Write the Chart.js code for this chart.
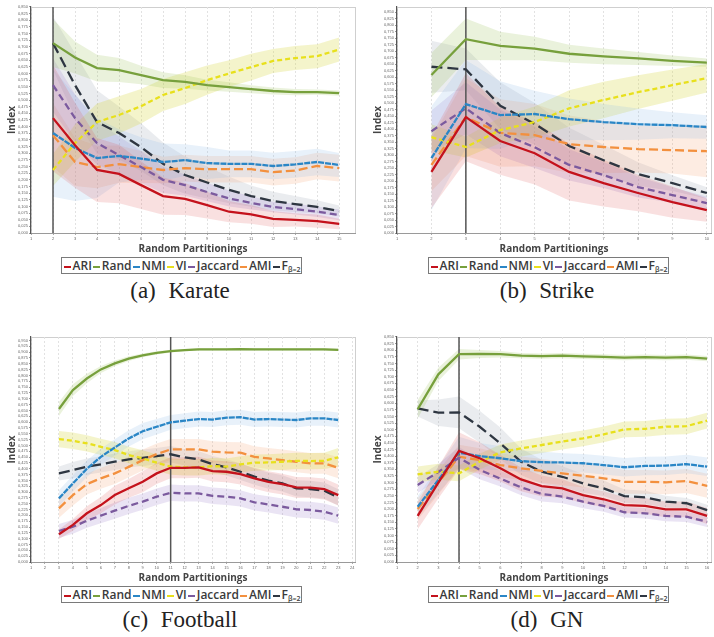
<!DOCTYPE html>
<html>
<head>
<meta charset="utf-8">
<script src="https://cdn.jsdelivr.net/npm/chart.js@4.4.1/dist/chart.umd.min.js"></script>
<style>
body { margin:0; background:#fff; width:714px; height:637px; position:relative; overflow:hidden; font-family:"Open Sans", sans-serif; }
.plot { position:absolute; }
.legend { position:absolute; width:239px; height:15px; border:1px solid #7a7a7a; display:flex; align-items:center; justify-content:center;
  font-family:"Open Sans", sans-serif; font-weight:600; font-size:12px; color:#3a3a3a; white-space:nowrap; }
.legend i { display:inline-block; width:7px; height:2px; margin:0 2px 0 1px; vertical-align:middle; }
.legend sub { font-size:7px; vertical-align:-2px; }
.cap { position:absolute; width:200px; text-align:center; font-family:"Liberation Serif", serif; font-size:23px; color:#222; word-spacing:7px; }
</style>
</head>
<body>
<div class="plot" style="left:0;top:0"><canvas id="c1" width="358" height="256"></canvas></div>
<div class="plot" style="left:366px;top:0"><canvas id="c2" width="348" height="256"></canvas></div>
<div class="plot" style="left:0;top:330px"><canvas id="c3" width="358" height="255"></canvas></div>
<div class="plot" style="left:366px;top:330px"><canvas id="c4" width="348" height="255"></canvas></div>

<div class="legend" id="lg1" style="left:61px;top:257px"></div>
<div class="legend" id="lg2" style="left:428px;top:257px"></div>
<div class="legend" id="lg3" style="left:61px;top:586px"></div>
<div class="legend" id="lg4" style="left:428px;top:586px"></div>

<div class="cap" style="left:80px;top:278px">(a) Karate</div>
<div class="cap" style="left:447px;top:278px">(b) Strike</div>
<div class="cap" style="left:80px;top:607px">(c) Football</div>
<div class="cap" style="left:447px;top:607px">(d) GN</div>

<script>
// series order: ARI, Rand, NMI, VI, Jaccard, AMI, F(beta=2)
var names = ['ARI', 'Rand', 'NMI', 'VI', 'Jaccard', 'AMI', 'F'];
var colors = ['#c4121c', '#77a03c', '#2a86c6', '#e8e01c', '#7b5a9e', '#f3903e', '#2e3641'];
var bandColors = ['rgba(220,70,70,0.17)', 'rgba(150,190,80,0.2)', 'rgba(140,185,230,0.2)', 'rgba(215,215,70,0.28)',
                  'rgba(150,120,200,0.2)', 'rgba(245,160,110,0.2)', 'rgba(140,150,165,0.18)'];
var dashes = [[], [], [6, 1], [5, 3], [7, 4], [9, 4], [11, 5]];

// ---- Karate ----
var karateX = [2,3,4,5,6,7,8,9,10,11,12,13,14,15];
var karateARI  = [0.432,0.33,0.237,0.222,0.18,0.139,0.128,0.105,0.08,0.07,0.053,0.049,0.045,0.034];
var karateRand = [0.714,0.66,0.62,0.613,0.594,0.575,0.568,0.556,0.549,0.541,0.534,0.53,0.53,0.526];
var karateNMI  = [0.376,0.32,0.282,0.29,0.28,0.267,0.274,0.263,0.26,0.26,0.252,0.258,0.267,0.256];
var karateVI   = [0.237,0.338,0.417,0.444,0.477,0.519,0.545,0.575,0.60,0.624,0.647,0.658,0.665,0.69];
var karateJac  = [0.556,0.432,0.338,0.293,0.248,0.2,0.18,0.154,0.13,0.113,0.098,0.09,0.08,0.068];
var karateAMI  = [0.368,0.267,0.248,0.259,0.248,0.237,0.244,0.24,0.24,0.24,0.229,0.235,0.252,0.244];
var karateF    = [0.714,0.556,0.417,0.376,0.323,0.26,0.218,0.19,0.162,0.139,0.12,0.109,0.098,0.083];
var karateSdARI  = [0.2,0.16,0.12,0.11,0.09,0.07,0.06,0.05,0.04,0.035,0.03,0.025,0.025,0.02];
var karateSdRand = [0.09,0.06,0.05,0.045,0.035,0.03,0.025,0.02,0.018,0.015,0.013,0.012,0.01,0.01];
var karateSdNMI  = [0.24,0.2,0.15,0.1,0.08,0.07,0.06,0.06,0.05,0.05,0.05,0.05,0.05,0.045];
var karateSdVI   = [0.06,0.07,0.07,0.07,0.065,0.06,0.06,0.055,0.05,0.05,0.045,0.045,0.045,0.045];
var karateSdJac  = [0.1,0.09,0.08,0.07,0.06,0.05,0.04,0.035,0.03,0.025,0.02,0.02,0.02,0.02];
var karateSdAMI  = [0.12,0.09,0.08,0.07,0.06,0.05,0.05,0.05,0.05,0.05,0.05,0.05,0.05,0.05];
var karateSdF    = [0.1,0.12,0.12,0.1,0.09,0.08,0.07,0.06,0.05,0.04,0.035,0.03,0.025,0.02];

// ---- Strike ----
var strikeX = [2,3,4,5,6,7,8,9,10];
var strikeARI  = [0.235,0.446,0.354,0.307,0.235,0.192,0.154,0.119,0.088];
var strikeRand = [0.608,0.746,0.72,0.71,0.69,0.68,0.672,0.663,0.656];
var strikeNMI  = [0.288,0.496,0.454,0.458,0.438,0.427,0.419,0.415,0.408];
var strikeVI   = [0.369,0.331,0.396,0.427,0.48,0.512,0.542,0.569,0.596];
var strikeJac  = [0.392,0.48,0.385,0.33,0.262,0.223,0.177,0.146,0.115];
var strikeAMI  = [0.262,0.446,0.385,0.377,0.342,0.331,0.323,0.319,0.315];
var strikeF    = [0.64,0.63,0.49,0.42,0.335,0.28,0.227,0.192,0.154];
var strikeSdARI  = [0.14,0.17,0.13,0.12,0.11,0.09,0.07,0.06,0.045];
var strikeSdRand = [0.085,0.08,0.055,0.045,0.035,0.03,0.025,0.02,0.016];
var strikeSdNMI  = [0.2,0.17,0.13,0.09,0.08,0.07,0.06,0.05,0.045];
var strikeSdVI   = [0.05,0.04,0.05,0.06,0.07,0.07,0.065,0.06,0.055];
var strikeSdJac  = [0.08,0.1,0.09,0.08,0.06,0.05,0.04,0.03,0.025];
var strikeSdAMI  = [0.1,0.15,0.13,0.12,0.11,0.1,0.09,0.09,0.1];
var strikeSdF    = [0.1,0.08,0.09,0.08,0.07,0.06,0.045,0.03,0.022];

// ---- Football ----
var footballX = [3,4,5,6,7,8,9,10,11,12,13,14,15,16,17,18,19,20,21,22,23];
var footballARI  = [0.119,0.159,0.209,0.244,0.287,0.316,0.344,0.38,0.404,0.404,0.406,0.39,0.387,0.377,0.359,0.344,0.334,0.32,0.319,0.313,0.287];
var footballRand = [0.656,0.737,0.787,0.826,0.852,0.872,0.886,0.897,0.904,0.909,0.912,0.912,0.912,0.913,0.912,0.912,0.912,0.912,0.912,0.912,0.91];
var footballNMI  = [0.273,0.337,0.40,0.451,0.491,0.53,0.561,0.58,0.599,0.606,0.613,0.611,0.619,0.621,0.611,0.613,0.611,0.609,0.616,0.616,0.609];
var footballVI   = [0.527,0.52,0.509,0.494,0.48,0.459,0.444,0.426,0.409,0.406,0.406,0.411,0.409,0.419,0.426,0.427,0.43,0.434,0.433,0.434,0.449];
var footballJac  = [0.133,0.151,0.177,0.199,0.22,0.241,0.259,0.28,0.297,0.294,0.294,0.284,0.28,0.273,0.256,0.247,0.237,0.226,0.223,0.216,0.199];
var footballAMI  = [0.23,0.287,0.334,0.359,0.38,0.408,0.437,0.463,0.483,0.483,0.483,0.473,0.47,0.469,0.451,0.444,0.437,0.43,0.423,0.423,0.404];
var footballF    = [0.38,0.394,0.409,0.419,0.43,0.44,0.447,0.454,0.462,0.449,0.44,0.42,0.406,0.387,0.366,0.349,0.337,0.316,0.313,0.306,0.277];
var footballSdARI  = [0.02,0.025,0.03,0.035,0.04,0.04,0.045,0.045,0.045,0.045,0.045,0.045,0.045,0.045,0.045,0.045,0.045,0.045,0.045,0.045,0.045];
var footballSdRand = [0.03,0.025,0.02,0.015,0.012,0.01,0.008,0.007,0.006,0.005,0.005,0.005,0.005,0.005,0.005,0.005,0.005,0.005,0.005,0.005,0.005];
var footballSdNMI  = [0.035,0.035,0.035,0.035,0.035,0.035,0.035,0.033,0.032,0.032,0.032,0.032,0.032,0.032,0.032,0.032,0.032,0.032,0.032,0.032,0.032];
var footballSdVI   = [0.035,0.035,0.035,0.035,0.035,0.035,0.035,0.035,0.035,0.035,0.035,0.035,0.035,0.035,0.035,0.035,0.035,0.035,0.035,0.035,0.04];
var footballSdJac  = [0.03,0.03,0.03,0.033,0.035,0.035,0.035,0.035,0.035,0.035,0.035,0.035,0.035,0.035,0.035,0.035,0.035,0.035,0.035,0.035,0.035];
var footballSdAMI  = [0.04,0.045,0.045,0.045,0.045,0.045,0.045,0.045,0.045,0.045,0.045,0.045,0.045,0.045,0.045,0.045,0.045,0.045,0.045,0.045,0.045];
var footballSdF    = [0.03,0.035,0.035,0.035,0.035,0.035,0.035,0.035,0.035,0.035,0.035,0.035,0.035,0.035,0.035,0.035,0.035,0.035,0.035,0.035,0.035];

// ---- GN ----
var gnX = [2,3,4,5,6,7,8,9,10,11,12,13,14,15,16];
var gnARI  = [0.174,0.3,0.42,0.392,0.354,0.312,0.287,0.278,0.253,0.237,0.215,0.212,0.199,0.199,0.174];
var gnRand = [0.577,0.709,0.785,0.786,0.785,0.78,0.778,0.78,0.777,0.775,0.772,0.774,0.772,0.774,0.768];
var gnNMI  = [0.209,0.31,0.413,0.40,0.392,0.381,0.377,0.376,0.373,0.366,0.358,0.363,0.364,0.37,0.36];
var gnVI   = [0.331,0.341,0.335,0.379,0.414,0.429,0.442,0.455,0.467,0.482,0.501,0.503,0.511,0.513,0.534];
var gnJac  = [0.291,0.34,0.394,0.348,0.315,0.282,0.257,0.247,0.228,0.212,0.188,0.184,0.174,0.171,0.152];
var gnAMI  = [0.2,0.3,0.398,0.385,0.366,0.354,0.344,0.335,0.326,0.316,0.303,0.303,0.301,0.306,0.288];
var gnF    = [0.58,0.564,0.565,0.511,0.448,0.379,0.341,0.322,0.297,0.278,0.249,0.244,0.228,0.222,0.196];
var gnSdARI  = [0.05,0.06,0.07,0.06,0.05,0.045,0.04,0.035,0.03,0.03,0.03,0.03,0.03,0.03,0.03];
var gnSdRand = [0.035,0.025,0.02,0.015,0.012,0.01,0.01,0.01,0.01,0.01,0.01,0.01,0.01,0.01,0.01];
var gnSdNMI  = [0.04,0.05,0.06,0.05,0.045,0.04,0.04,0.035,0.035,0.035,0.035,0.035,0.035,0.035,0.035];
var gnSdVI   = [0.03,0.03,0.03,0.03,0.03,0.03,0.03,0.03,0.03,0.03,0.03,0.03,0.03,0.03,0.03];
var gnSdJac  = [0.03,0.03,0.04,0.035,0.03,0.03,0.028,0.025,0.025,0.022,0.02,0.02,0.02,0.02,0.02];
var gnSdAMI  = [0.04,0.045,0.045,0.045,0.045,0.045,0.045,0.045,0.045,0.045,0.045,0.045,0.045,0.045,0.045];
var gnSdF    = [0.03,0.05,0.06,0.06,0.06,0.05,0.045,0.04,0.035,0.03,0.025,0.025,0.022,0.02,0.02];

// chosen number of partitions (vertical line)
var karateCut = 2, strikeCut = 3, footballCut = 11, gnCut = 4;

var framePlugin = {
    id: 'frame',
    beforeDraw: function (chart) {
        var a = chart.chartArea, c = chart.ctx;
        c.save();
        c.strokeStyle = '#cfcfcf';
        c.lineWidth = 1;
        c.strokeRect(a.left + 0.5, a.top + 0.5, a.right - a.left, a.bottom - a.top);
        c.restore();
    }
};

function points(xs, ys, sd, sign) {
    return xs.map(function (x, j) {
        return { x: x, y: ys[j] + (sd ? sign * sd[j] : 0) };
    });
}

function drawPanel(id, xs, vals, sds, cut, xMax, yMax) {
    var lines = [], bands = [];
    for (var i = 0; i < vals.length; i++) {
        lines.push({
            data: points(xs, vals[i]),
            borderColor: colors[i], borderWidth: 2.3, borderDash: dashes[i],
            pointRadius: 0, fill: false, tension: 0
        });
        bands.push({
            data: points(xs, vals[i], sds[i], 1),
            borderWidth: 0, pointRadius: 0, backgroundColor: bandColors[i], fill: '+1'
        });
        bands.push({
            data: points(xs, vals[i], sds[i], -1),
            borderWidth: 0, pointRadius: 0, fill: false
        });
    }
    var cutLine = {
        data: [{ x: cut, y: 0 }, { x: cut, y: yMax }],
        borderColor: '#555', borderWidth: 1.5, pointRadius: 0, fill: false
    };

    new Chart(document.getElementById(id).getContext('2d'), {
        type: 'line',
        data: { datasets: lines.concat([cutLine], bands) },
        options: {
            responsive: false,
            animation: false,
            layout: { padding: { top: 7, right: 3, left: 0, bottom: 0 } },
            plugins: { legend: { display: false }, tooltip: { enabled: false } },
            scales: {
                x: {
                    type: 'linear', min: 1, max: xMax,
                    afterBuildTicks: function (s) {
                        var t = [];
                        for (var v = 1; v <= Math.floor(xMax); v++) t.push({ value: v });
                        s.ticks = t;
                    },
                    afterFit: function (s) { s.height = 23; },
                    ticks: { font: { size: 4 }, color: '#666', padding: 1, maxRotation: 0, autoSkip: false },
                    grid: { color: '#e2e2e2', tickLength: 2, tickColor: '#aaa' },
                    border: { color: '#9a9a9a', dash: [2, 2] },
                    title: {
                        display: true, text: 'Random Partitionings', color: '#444',
                        font: { family: 'Open Sans', size: 10, weight: 'bold' },
                        padding: { top: 0, bottom: 1 }
                    }
                },
                y: {
                    min: 0, max: yMax,
                    afterBuildTicks: function (s) {
                        var t = [];
                        for (var k = 0; k * 0.025 <= yMax + 1e-9; k++) t.push({ value: k * 0.025 });
                        s.ticks = t;
                    },
                    afterFit: function (s) { s.width = 31; },
                    ticks: {
                        font: { size: 4 }, color: '#666', padding: 1, autoSkip: false,
                        callback: function (v) { return v.toFixed(3).replace('.', ','); }
                    },
                    grid: { drawOnChartArea: false, tickLength: 2, color: '#999' },
                    border: { color: '#555', width: 1.2 },
                    title: {
                        display: true, text: 'Index', color: '#444',
                        font: { family: 'Open Sans', size: 10, weight: 'bold' },
                        padding: { top: 6, bottom: 0 }
                    }
                }
            }
        },
        plugins: [framePlugin]
    });
}

function fillLegend(id) {
    var el = document.getElementById(id);
    el.innerHTML = names.map(function (n, i) {
        var label = n === 'F' ? 'F<sub>\u03b2=2</sub>' : n;
        return '<span><i style="background:' + colors[i] + '"></i>' + label + '</span>';
    }).join('');
}

drawPanel('c1', karateX,
    [karateARI, karateRand, karateNMI, karateVI, karateJac, karateAMI, karateF],
    [karateSdARI, karateSdRand, karateSdNMI, karateSdVI, karateSdJac, karateSdAMI, karateSdF],
    karateCut, 15.72, 0.85);
drawPanel('c2', strikeX,
    [strikeARI, strikeRand, strikeNMI, strikeVI, strikeJac, strikeAMI, strikeF],
    [strikeSdARI, strikeSdRand, strikeSdNMI, strikeSdVI, strikeSdJac, strikeSdAMI, strikeSdF],
    strikeCut, 10.12, 0.87);
drawPanel('c3', footballX,
    [footballARI, footballRand, footballNMI, footballVI, footballJac, footballAMI, footballF],
    [footballSdARI, footballSdRand, footballSdNMI, footballSdVI, footballSdJac, footballSdAMI, footballSdF],
    footballCut, 24.2, 0.965);
drawPanel('c4', gnX,
    [gnARI, gnRand, gnNMI, gnVI, gnJac, gnAMI, gnF],
    [gnSdARI, gnSdRand, gnSdNMI, gnSdVI, gnSdJac, gnSdAMI, gnSdF],
    gnCut, 16.19, 0.85);

['lg1', 'lg2', 'lg3', 'lg4'].forEach(fillLegend);
</script>
</body>
</html>
